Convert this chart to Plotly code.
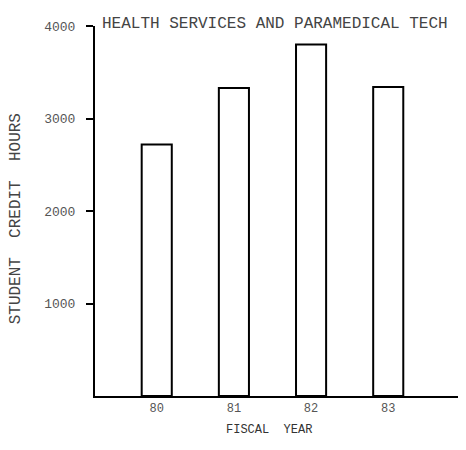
import plotly.graph_objects as go

# fiscal years and student credit hours
fiscal_years = ["80", "81", "82", "83"]
credit_hours = [2720, 3330, 3800, 3340]
y_ticks = [1000, 2000, 3000, 4000]

MONO = "Liberation Mono, Courier New, monospace"

fig = go.Figure()

fig.add_trace(go.Bar(
    x=fiscal_years,
    y=credit_hours,
    width=0.39,
    marker=dict(color="white", line=dict(color="black", width=2)),
    hovertemplate="FY %{x}<br>%{y} hours<extra></extra>",
))

# margins allow for the 8px body margin of the html page
fig.update_layout(
    width=466,
    height=450,
    autosize=False,
    margin=dict(l=87, r=14, t=18, b=62),
    plot_bgcolor="white",
    paper_bgcolor="white",
    showlegend=False,
    font=dict(family=MONO, color="#333"),
)

fig.update_xaxes(
    type="category",
    range=[-0.8, 3.93],
    showline=True,
    linecolor="black",
    linewidth=2,
    ticks="",
    showgrid=False,
    tickfont=dict(size=12, color="#555"),
)

fig.update_yaxes(
    range=[0, 4000],
    tickvals=y_ticks,
    showline=True,
    linecolor="black",
    linewidth=2,
    ticks="outside",
    ticklen=7,
    tickwidth=2,
    tickcolor="black",
    ticklabelstandoff=8,
    showgrid=False,
    zeroline=False,
    tickfont=dict(size=13, color="#555"),
)

# title and axis labels, typewriter style
fig.add_annotation(
    text="HEALTH SERVICES AND PARAMEDICAL TECH",
    xref="paper", yref="paper",
    x=0.014, y=1.005,
    xanchor="left", yanchor="middle",
    showarrow=False,
    font=dict(size=16, color="#444"),
)
fig.add_annotation(
    text="FISCAL  YEAR",
    xref="paper", yref="paper",
    x=0.477, y=-0.092,
    xanchor="center", yanchor="middle",
    showarrow=False,
    font=dict(size=12, color="#333"),
)
fig.add_annotation(
    text="STUDENT  CREDIT  HOURS",
    xref="paper", yref="paper",
    x=-0.216, y=0.478,
    xanchor="center", yanchor="middle",
    textangle=-90,
    showarrow=False,
    font=dict(size=16, color="#444"),
)

fig.write_html("out.html")
